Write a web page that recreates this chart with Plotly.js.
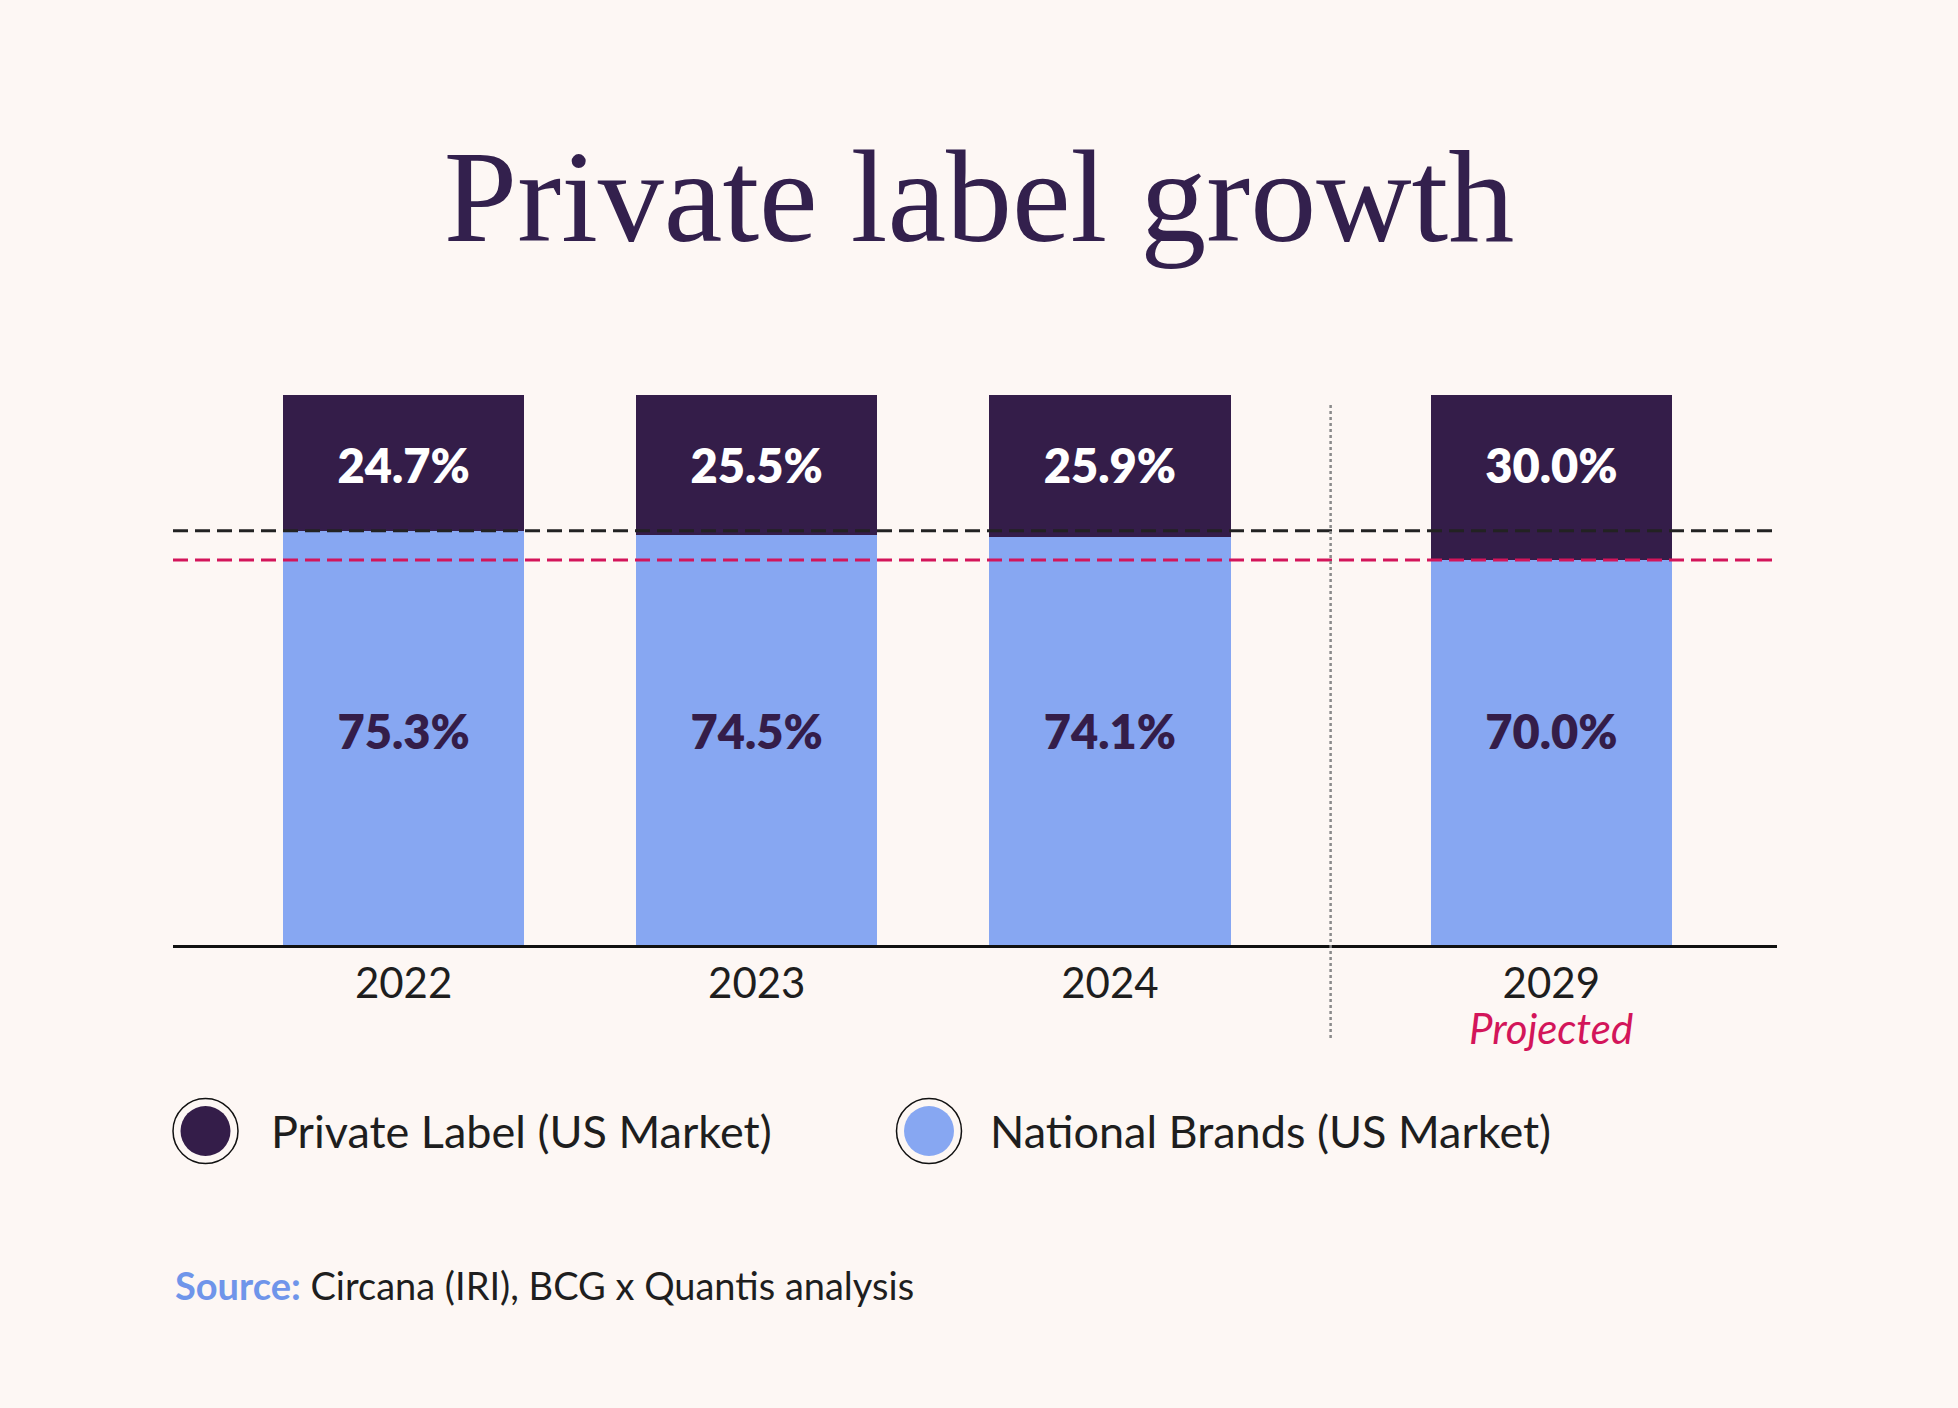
<!DOCTYPE html>
<html>
<head>
<meta charset="utf-8">
<script src="https://cdn.plot.ly/plotly-3.0.1.min.js"></script>
<style>
  html, body { margin: 0; padding: 0; background: #fdf7f4; }
  #chart { width: 1958px; height: 1408px; }
</style>
</head>
<body>
<div id="chart"></div>
<script>
// chart data
const years = ["2022", "2023", "2024", "2029"];
const yearPos = [0, 1, 2, 3.25];          // 2029 sits a bit further out (projection)
const privateLabel = [24.7, 25.5, 25.9, 30.0];
const nationalBrands = [75.3, 74.5, 74.1, 70.0];
const seriesNames = ["Private Label (US Market)", "National Brands (US Market)"];

const W = 1958, H = 1408;
const M = { l: 173, r: 181, t: 395, b: 463 };
const plotW = W - M.l - M.r, plotH = H - M.t - M.b;

const DARK = "#341d49";
const LIGHT = "#87a7f2";
const BG = "#fdf7f4";
const PINK = "#d3155a";
const FONT = "Lato, 'Source Sans Pro', 'Noto Sans', sans-serif";

// pixel -> paper helpers for the non-data decorations
const px = (x) => (x - M.l) / plotW;
const py = (y) => (M.t + plotH - y) / plotH;

const pct = (v) => v.toFixed(1) + "%";

const data = [
  {
    type: "bar",
    x: yearPos,
    y: nationalBrands,
    width: 0.683,
    marker: { color: LIGHT, line: { width: 0 } },
    name: seriesNames[1],
    hoverinfo: "skip",
  },
  {
    type: "bar",
    x: yearPos,
    y: privateLabel,
    width: 0.683,
    marker: { color: DARK, line: { width: 0 } },
    name: seriesNames[0],
    hoverinfo: "skip",
  },
  // value labels sit at a fixed height in each band
  {
    type: "scatter",
    mode: "text",
    x: yearPos,
    y: yearPos.map(() => 86.2),
    text: privateLabel.map(pct),
    textfont: { family: FONT, size: 47, color: "#ffffff", weight: 800 },
    cliponaxis: false,
    hoverinfo: "skip",
  },
  {
    type: "scatter",
    mode: "text",
    x: yearPos,
    y: yearPos.map(() => 37.8),
    text: nationalBrands.map(pct),
    textfont: { family: FONT, size: 47, color: DARK, weight: 800 },
    cliponaxis: false,
    hoverinfo: "skip",
  },
];

const dividerX = (yearPos[2] + yearPos[3]) / 2;

const shapes = [
  // reference levels: 2022 national brands, 2029 national brands
  {
    type: "line", xref: "paper", yref: "y",
    x0: 0, x1: 1, y0: nationalBrands[0], y1: nationalBrands[0],
    line: { color: "#222222", width: 3, dash: "15px,7px" },
  },
  {
    type: "line", xref: "paper", yref: "y",
    x0: 0, x1: 1, y0: nationalBrands[3], y1: nationalBrands[3],
    line: { color: PINK, width: 3, dash: "15px,7px" },
  },
  // actual vs projected divider
  {
    type: "line", xref: "x", yref: "paper",
    x0: dividerX, x1: dividerX, y0: py(1038), y1: py(403),
    line: { color: "#8a8a8a", width: 2.5, dash: "dot" },
  },
];

// custom legend: filled dot with a thin ring round it
const legendItems = [
  { cx: 205.5, tx: 269, color: DARK, name: seriesNames[0] },
  { cx: 929, tx: 988, color: LIGHT, name: seriesNames[1] },
];
const legendY = 1131;
const annotations = [];
legendItems.forEach((it) => {
  shapes.push({
    type: "circle", xref: "paper", yref: "paper",
    xsizemode: "pixel", ysizemode: "pixel",
    xanchor: px(it.cx), yanchor: py(legendY),
    x0: -32.5, x1: 32.5, y0: -32.5, y1: 32.5,
    fillcolor: BG, line: { color: "#111111", width: 1.5 },
  });
  shapes.push({
    type: "circle", xref: "paper", yref: "paper",
    xsizemode: "pixel", ysizemode: "pixel",
    xanchor: px(it.cx), yanchor: py(legendY),
    x0: -25, x1: 25, y0: -25, y1: 25,
    fillcolor: it.color, line: { width: 0 },
  });
  annotations.push({
    xref: "paper", yref: "paper",
    x: px(it.tx), y: py(legendY),
    xanchor: "left", yanchor: "middle",
    text: it.name, showarrow: false,
    font: { family: FONT, size: 45, color: "#1e1e1e" },
  });
});

annotations.push({
  xref: "x", yref: "paper",
  x: yearPos[3], y: py(1028),
  xanchor: "center", yanchor: "middle",
  text: "<i>Projected</i>", showarrow: false,
  font: { family: FONT, size: 42, color: PINK },
});

annotations.push({
  xref: "paper", yref: "paper",
  x: px(173), y: py(1285),
  xanchor: "left", yanchor: "middle",
  text: "<b><span style='color:#6f95ea'>Source:</span></b> Circana (IRI), BCG x Quantis analysis",
  showarrow: false,
  font: { family: FONT, size: 38, color: "#1e1e1e" },
});

const layout = {
  width: W,
  height: H,
  paper_bgcolor: BG,
  plot_bgcolor: BG,
  margin: M,
  barmode: "stack",
  showlegend: false,
  title: {
    text: "Private label growth",
    x: 0.5, xanchor: "center",
    yref: "container", y: 1 - 195 / H, yanchor: "middle",
    font: { family: "'Liberation Serif', 'DejaVu Serif', serif", size: 132, color: "#33204d" },
  },
  xaxis: {
    range: [-0.653, 3.889],
    tickvals: yearPos,
    ticktext: years,
    ticks: "",
    showgrid: false,
    zeroline: false,
    showline: true,
    linecolor: "#111111",
    linewidth: 3,
    tickfont: { family: FONT, size: 42, color: "#1e1e1e" },
    fixedrange: true,
  },
  yaxis: {
    range: [0, 100],
    visible: false,
    fixedrange: true,
  },
  shapes,
  annotations,
};

Plotly.newPlot("chart", data, layout, { staticPlot: true, displayModeBar: false });
</script>
</body>
</html>
